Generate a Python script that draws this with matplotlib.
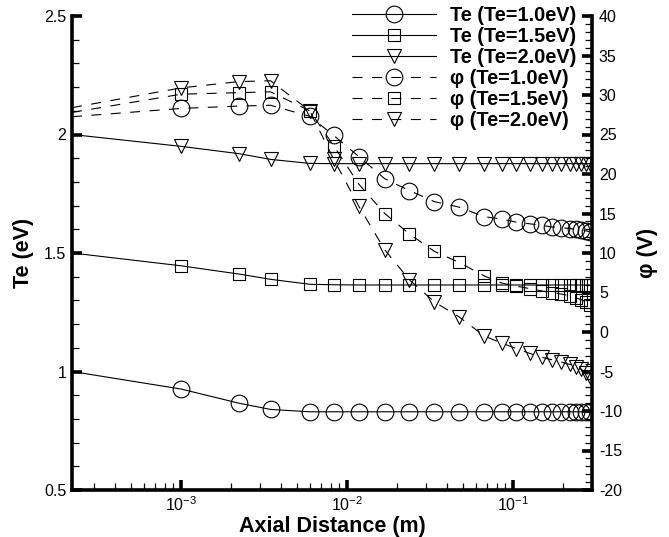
import numpy as np
import matplotlib.pyplot as plt
from matplotlib.lines import Line2D
from matplotlib.ticker import MultipleLocator, FormatStrFormatter, LogLocator

plt.rcParams['font.family'] = ['Liberation Sans', 'DejaVu Sans']
plt.rcParams['axes.unicode_minus'] = False
plt.rcParams['mathtext.default'] = 'regular'

# axial positions (m): left boundary point, then the marked grid points
x_start = 2.2e-4
x_grid = [1.0e-3, 2.24e-3, 3.46e-3, 5.97e-3, 8.3e-3, 0.0118, 0.0169, 0.0238,
          0.0337, 0.0475, 0.0672, 0.0855, 0.105, 0.126, 0.149, 0.171, 0.196,
          0.220, 0.241, 0.258, 0.277, 0.290]

# electron temperature (eV)
te_start = [1.0, 1.5, 2.0]
te_10 = [0.926, 0.866, 0.840, 0.830, 0.830, 0.830, 0.830, 0.830, 0.830, 0.830, 0.830,
         0.830, 0.830, 0.830, 0.830, 0.830, 0.830, 0.830, 0.830, 0.830, 0.830, 0.830]
te_15 = [1.446, 1.411, 1.389, 1.368, 1.366, 1.365, 1.365, 1.365, 1.365, 1.365, 1.365,
         1.365, 1.365, 1.365, 1.365, 1.365, 1.365, 1.365, 1.365, 1.365, 1.365, 1.365]
te_20 = [1.950, 1.919, 1.895, 1.878, 1.877, 1.877, 1.877, 1.877, 1.877, 1.877, 1.877,
         1.877, 1.877, 1.877, 1.877, 1.877, 1.877, 1.877, 1.877, 1.877, 1.877, 1.877]

# potential (V)
phi_start = [27.25, 27.8, 28.4]
phi_10 = [28.3, 28.6, 28.7, 27.3, 24.9, 22.2, 19.4, 17.9, 16.5, 15.8, 14.6,
          14.3, 13.9, 13.7, 13.5, 13.3, 13.2, 13.1, 13.0, 12.9, 12.8, 12.7]
phi_15 = [30.1, 30.3, 30.4, 28.0, 23.6, 18.7, 15.0, 12.4, 10.2, 8.8, 7.1,
          6.2, 5.8, 5.5, 5.2, 5.0, 4.8, 4.6, 4.3, 4.1, 3.8, 3.4]
phi_20 = [30.9, 31.7, 31.8, 28.0, 21.9, 15.9, 10.4, 6.6, 3.8, 1.9, -0.5,
          -1.4, -2.1, -2.7, -3.2, -3.5, -3.8, -4.1, -4.4, -4.7, -5.2, -5.7]

labels = ['1.0', '1.5', '2.0']
markers = ['o', 's', 'v']
msizes = [12, 8.6, 9.4]
dash = (9, 8.5)

fig = plt.figure(figsize=(6.69, 5.37), dpi=100)
ax = fig.add_axes([72 / 669, 1 - 490 / 537, 520 / 669, 474 / 537])
ax2 = ax.twinx()

x_all = np.array([x_start] + x_grid)
x_m = np.array(x_grid)

handles = []
for i, te in enumerate([te_10, te_15, te_20]):
    ax.plot(x_all, [te_start[i]] + te, color='k', lw=0.8)
    ax.plot(x_m, te, ls='none', marker=markers[i], ms=msizes[i], mfc='none',
            mec='k', mew=0.8)
    handles.append(Line2D([], [], color='k', lw=0.8, marker=markers[i], ms=msizes[i],
                          mfc='none', mec='k', mew=0.8,
                          label='Te (Te=%seV)' % labels[i]))

for i, phi in enumerate([phi_10, phi_15, phi_20]):
    ax2.plot(x_all, [phi_start[i]] + phi, color='k', lw=0.8, dashes=dash)
    ax2.plot(x_m, phi, ls='none', marker=markers[i], ms=msizes[i], mfc='none',
             mec='k', mew=0.8)
    handles.append(Line2D([], [], color='k', lw=0.8, dashes=dash, marker=markers[i],
                          ms=msizes[i], mfc='none', mec='k', mew=0.8,
                          label='\u03c6 (Te=%seV)' % labels[i]))

ax.set_xscale('log')
ax.set_xlim(x_start, 0.3)
ax.set_ylim(0.5, 2.5)
ax2.set_ylim(-20, 40)

ax.xaxis.set_major_locator(LogLocator(base=10, numticks=10))
ax.xaxis.set_minor_locator(LogLocator(base=10, subs=np.arange(2, 10), numticks=20))
ax.yaxis.set_major_locator(MultipleLocator(0.5))
ax.yaxis.set_minor_locator(MultipleLocator(0.1))
ax.yaxis.set_major_formatter(FormatStrFormatter('%g'))
ax2.yaxis.set_major_locator(MultipleLocator(5))
ax2.yaxis.set_minor_locator(MultipleLocator(1))
ax2.yaxis.set_major_formatter(FormatStrFormatter('%g'))

for a in (ax, ax2):
    a.spines['top'].set_visible(False)
    for s in a.spines.values():
        s.set_linewidth(2.6)
ax.spines['right'].set_visible(False)
ax2.spines['left'].set_visible(False)
ax2.spines['bottom'].set_visible(False)

ax.tick_params(which='major', direction='in', length=7.5, width=2.6, labelsize=11.5, pad=4)
ax.tick_params(which='minor', direction='in', length=5, width=0.9)
ax.tick_params(axis='x', pad=4)
ax2.tick_params(which='major', direction='in', length=7.5, width=2.6, labelsize=11.5, pad=5)
ax2.tick_params(which='minor', direction='in', length=5, width=0.9)

ax.set_xlabel('Axial Distance (m)', fontsize=15.5, fontweight='bold')
ax.set_ylabel('Te (eV)', fontsize=15.5, fontweight='bold')
ax2.set_ylabel('\u03c6 (V)', fontsize=15.5, fontweight='bold')
ax.xaxis.set_label_coords(0.5, -0.055)
ax.yaxis.set_label_coords(-0.073, 0.5)
ax2.yaxis.set_label_coords(1.087, 0.5)

fig.legend(handles=handles, loc='upper right', bbox_to_anchor=(576 / 669, 1 - 6 / 537),
           frameon=False, prop={'size': 14.3, 'weight': 'bold'}, handlelength=4.2,
           handletextpad=0.7, labelspacing=0.1, borderpad=0, borderaxespad=0)

fig.savefig('out.png', dpi=100)
